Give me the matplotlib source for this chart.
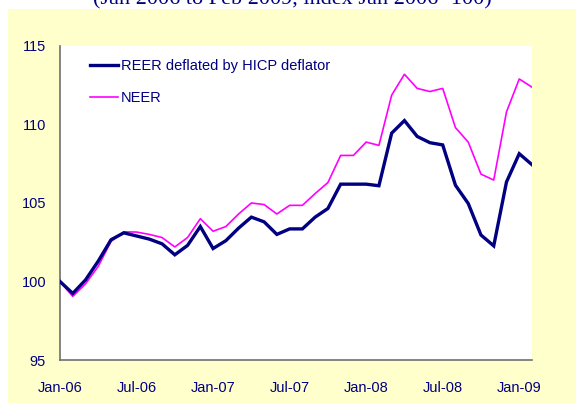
import matplotlib
matplotlib.use("Agg")
import matplotlib.pyplot as plt
from matplotlib.patches import Rectangle

# monthly index, Jan 2006 .. Feb 2009 (Jan 2006 = 100)
months = ["Jan-06", "Feb-06", "Mar-06", "Apr-06", "May-06", "Jun-06",
          "Jul-06", "Aug-06", "Sep-06", "Oct-06", "Nov-06", "Dec-06",
          "Jan-07", "Feb-07", "Mar-07", "Apr-07", "May-07", "Jun-07",
          "Jul-07", "Aug-07", "Sep-07", "Oct-07", "Nov-07", "Dec-07",
          "Jan-08", "Feb-08", "Mar-08", "Apr-08", "May-08", "Jun-08",
          "Jul-08", "Aug-08", "Sep-08", "Oct-08", "Nov-08", "Dec-08",
          "Jan-09", "Feb-09"]

reer = [100.0, 99.24, 100.1, 101.3, 102.66, 103.1, 102.9, 102.7, 102.4, 101.7,
        102.3, 103.5, 102.1, 102.6, 103.4, 104.1, 103.8, 103.0, 103.35, 103.35,
        104.1, 104.65, 106.2, 106.2, 106.2, 106.1, 109.45, 110.25, 109.24, 108.84,
        108.7, 106.13, 104.97, 102.96, 102.27, 106.34, 108.14, 107.44]

neer = [100.0, 99.05, 99.85, 100.97, 102.55, 103.16, 103.15, 103.0, 102.8, 102.2,
        102.8, 104.0, 103.2, 103.5, 104.3, 105.0, 104.9, 104.3, 104.85, 104.85,
        105.6, 106.3, 108.03, 108.03, 108.88, 108.67, 111.87, 113.2, 112.3, 112.1,
        112.3, 109.8, 108.88, 106.84, 106.46, 110.8, 112.9, 112.38]

yticks = [95, 100, 105, 110, 115]

navy = "#000080"
font = ["Liberation Sans", "DejaVu Sans"]
fsize = 10.5

W, H = 576, 403
fig = plt.figure(figsize=(W / 100, H / 100), dpi=100, facecolor="white")

# pale yellow chart area (behind the axes)
fig.patches.append(Rectangle((8 / W, 0), 1 - 8 / W, 1 - 9 / H,
                             transform=fig.transFigure, facecolor="#FFFFCC",
                             edgecolor="none", zorder=-10))

# title, cut off at the top like in the source
fig.text(292 / W, 1 - 4 / H, "(Jan 2006 to Feb 2009, index Jan 2006=100)",
         ha="center", va="baseline", color=navy, fontsize=16,
         family=["Liberation Serif", "DejaVu Serif"])

ax = fig.add_axes([60 / W, (H - 360) / H, (532 - 60) / W, (360 - 46) / H])
ax.set_facecolor("white")

x = list(range(len(months)))
ax.plot(x, reer, color=navy, lw=2.4, label="REER deflated by HICP deflator",
        solid_joinstyle="miter", zorder=3)
ax.plot(x, neer, color="#FF00FF", lw=1.2, label="NEER", zorder=2)

ax.set_xlim(0, len(months) - 1)
ax.set_ylim(95, 115)
ax.set_yticks(yticks)
ax.set_xticks(x[::6])
ax.set_xticklabels(months[::6])

for s in ["top", "right"]:
    ax.spines[s].set_visible(False)
for s in ["left", "bottom"]:
    ax.spines[s].set_color("#707070")
    ax.spines[s].set_linewidth(1.2)

ax.tick_params(axis="y", length=0, pad=10, labelcolor=navy)
ax.tick_params(axis="x", length=0, pad=15, labelcolor=navy)
for lab in ax.get_xticklabels() + ax.get_yticklabels():
    lab.set_family(font)
    lab.set_fontsize(fsize)

leg = ax.legend(loc="upper left", bbox_to_anchor=(30 / 472, 1 - 13 / 314),
                frameon=False, handlelength=1.92, handletextpad=0.2,
                labelspacing=1.25, borderpad=0, borderaxespad=0,
                prop={"family": font, "size": fsize})
for t in leg.get_texts():
    t.set_color(navy)

fig.savefig("out.png", dpi=100, facecolor=fig.get_facecolor())
